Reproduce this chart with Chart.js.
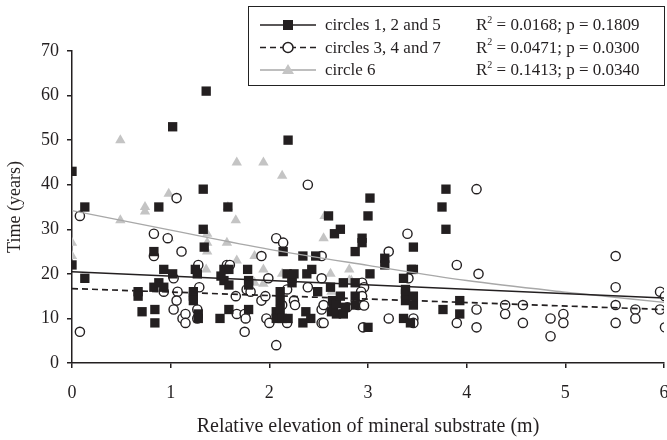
<!DOCTYPE html>
<html>
<head>
<meta charset="utf-8">
<script src="https://cdn.jsdelivr.net/npm/chart.js@4"></script>
<style>
  html, body { margin: 0; padding: 0; background: #fff; overflow: hidden; }
  #wrap { width: 667px; height: 440px; }
</style>
</head>
<body>
<div id="wrap"><canvas id="chart" width="667" height="440"></canvas></div>
<script>
// circles 1, 2 and 5 (black squares)
const circles125 = [
  [0, 43], [0, 22], [0.13, 35], [0.13, 19], [0.67, 16], [0.67, 15], [0.71, 11.5], [0.84, 12],
  [0.84, 9], [0.83, 25], [0.83, 17], [0.88, 18], [0.88, 35], [0.93, 21], [0.93, 17], [1.02, 20],
  [1.02, 53], [1.23, 16], [1.23, 15], [1.23, 14], [1.25, 21], [1.27, 20], [1.28, 11], [1.28, 10],
  [1.33, 39], [1.33, 30], [1.34, 26], [1.36, 61], [1.5, 10], [1.51, 19.5], [1.54, 21], [1.54, 18.5],
  [1.58, 35], [1.59, 21], [1.59, 17.5], [1.59, 12], [1.78, 21], [1.79, 18.5], [1.79, 17.5], [1.79, 12],
  [2.07, 11.5], [2.07, 10], [2.11, 16], [2.11, 14], [2.11, 12], [2.13, 10], [2.14, 25], [2.18, 20],
  [2.19, 10], [2.19, 50], [2.23, 19], [2.23, 18], [2.25, 20], [2.34, 24], [2.34, 9], [2.37, 11.5],
  [2.38, 20], [2.42, 10], [2.43, 21], [2.47, 24], [2.49, 16], [2.6, 33], [2.62, 17], [2.63, 11.5],
  [2.64, 14], [2.65, 12], [2.66, 29], [2.68, 13.3], [2.68, 11], [2.72, 30], [2.72, 15], [2.75, 18],
  [2.75, 11], [2.77, 12.5], [2.87, 25], [2.87, 18], [2.87, 15], [2.87, 13], [2.94, 28], [2.94, 27],
  [3.0, 33], [3.0, 8], [3.02, 37], [3.02, 20], [3.17, 23.5], [3.17, 22], [3.36, 19], [3.36, 10],
  [3.38, 16.5], [3.38, 15.5], [3.38, 14], [3.43, 9], [3.44, 21], [3.46, 26], [3.46, 21], [3.46, 15],
  [3.46, 13], [3.75, 35], [3.76, 12], [3.79, 39], [3.79, 30], [3.93, 14], [3.93, 11]
];
// circles 3, 4 and 7 (open circles)
const circles347 = [
  [0.08, 33], [0.08, 7], [0.83, 29], [0.83, 24], [0.93, 16], [0.97, 28], [1.03, 19], [1.06, 37],
  [1.07, 16], [1.06, 14], [1.03, 12], [1.11, 25], [1.12, 10], [1.15, 11], [1.15, 9], [1.28, 22],
  [1.29, 17], [1.27, 12], [1.27, 10], [1.57, 22], [1.6, 22], [1.66, 15], [1.67, 11], [1.75, 11],
  [1.76, 10], [1.75, 7], [1.77, 16.5], [1.81, 16], [1.92, 24], [1.92, 14], [1.96, 15], [1.97, 10],
  [1.99, 19], [2.0, 9], [2.07, 28], [2.07, 4], [2.14, 27], [2.13, 13], [2.18, 16.5], [2.18, 9],
  [2.25, 14], [2.26, 13], [2.39, 40], [2.39, 17], [2.53, 24], [2.53, 19], [2.53, 12], [2.55, 13],
  [2.53, 9], [2.55, 9], [2.79, 12.5], [2.89, 14.7], [2.9, 13], [2.94, 18], [2.96, 17], [2.93, 16],
  [2.94, 15], [2.96, 12.9], [2.95, 8], [3.21, 25], [3.21, 10], [3.4, 29], [3.41, 19], [3.46, 10],
  [3.46, 9], [3.9, 22], [3.9, 9], [4.1, 39], [4.12, 20], [4.1, 12], [4.1, 8], [4.39, 13],
  [4.39, 11], [4.57, 13], [4.57, 9], [4.85, 10], [4.85, 6], [4.98, 11], [4.98, 9], [5.51, 24],
  [5.51, 17], [5.51, 13], [5.51, 9], [5.71, 12], [5.71, 10], [5.96, 16], [6.01, 15], [5.96, 12],
  [6.01, 8]
];
// circle 6 (grey triangles)
const circle6 = [
  [0, 27], [0, 24], [0.49, 50], [0.49, 32], [0.74, 35], [0.74, 34], [0.98, 38], [0.98, 28],
  [1.37, 29], [1.37, 27], [1.37, 25], [1.36, 21], [1.57, 27], [1.58, 35], [1.66, 32], [1.67, 45],
  [1.67, 23], [1.85, 24], [1.85, 18], [1.94, 45], [1.94, 21], [1.94, 17.8], [2.13, 42], [2.13, 20],
  [2.55, 28], [2.56, 33], [2.62, 20], [2.63, 16], [2.81, 21], [2.81, 18.5], [2.83, 18.5]
];

// fitted lines
const fit125 = [[0, 20.5], [6, 14.6]];
const fit347 = [[0, 16.7], [6, 12.0]];
const fit6 = [[0, 34.2], [1, 29.8], [2, 25.5], [3, 21.9], [4, 18.5], [5, 15.9], [6, 13.6]];

const legendLabels = ['circles 1, 2 and 5', 'circles 3, 4 and 7', 'circle 6'];
const legendStats = [' = 0.0168; p = 0.1809', ' = 0.0471; p = 0.0300', ' = 0.1413; p = 0.0340'];

const xTicks = [0, 1, 2, 3, 4, 5, 6];
const yTicks = [0, 10, 20, 30, 40, 50, 60, 70];

const SERIF = '"Liberation Serif", "DejaVu Serif", serif';
const BLACK = '#231f20';
const GREY_PT = '#c4c4c4';
const GREY_LN = '#a8a8a8';

const toXY = arr => arr.map(p => ({ x: p[0], y: p[1] }));

// legend box drawn on top of the plot
const boxLegend = {
  id: 'boxLegend',
  afterDraw(chart) {
    const ctx = chart.ctx;
    ctx.save();
    ctx.strokeStyle = '#222';
    ctx.lineWidth = 1;
    ctx.fillStyle = '#fff';
    ctx.fillRect(248.5, 6.5, 416, 79);
    ctx.strokeRect(248.5, 6.5, 416, 79);

    const rows = [25, 47.5, 70];
    rows.forEach((y, i) => {
      // sample line
      ctx.beginPath();
      ctx.lineWidth = i === 2 ? 1.3 : 1.5;
      ctx.strokeStyle = i === 2 ? GREY_LN : BLACK;
      ctx.setLineDash(i === 1 ? [6, 4] : []);
      ctx.moveTo(260, y);
      ctx.lineTo(316, y);
      ctx.stroke();
      ctx.setLineDash([]);
      // marker
      const mx = 288;
      if (i === 0) {
        ctx.fillStyle = BLACK;
        ctx.fillRect(mx - 5, y - 5, 10, 10);
      } else if (i === 1) {
        ctx.beginPath();
        ctx.arc(mx, y, 5, 0, Math.PI * 2);
        ctx.fillStyle = '#fff';
        ctx.fill();
        ctx.lineWidth = 1.5;
        ctx.strokeStyle = BLACK;
        ctx.stroke();
      } else {
        ctx.beginPath();
        ctx.moveTo(mx, y - 6);
        ctx.lineTo(mx + 6, y + 4);
        ctx.lineTo(mx - 6, y + 4);
        ctx.closePath();
        ctx.fillStyle = GREY_PT;
        ctx.fill();
      }
      // texts
      ctx.fillStyle = BLACK;
      ctx.textBaseline = 'middle';
      ctx.textAlign = 'left';
      ctx.font = '17px ' + SERIF;
      ctx.fillText(legendLabels[i], 325, y + 1);
      ctx.fillText('R', 476, y + 1);
      const rw = ctx.measureText('R').width;
      ctx.font = '10px ' + SERIF;
      ctx.fillText('2', 476 + rw, y - 5);
      ctx.font = '17px ' + SERIF;
      ctx.fillText(legendStats[i], 476 + rw + 5, y + 1);
    });
    ctx.restore();
  }
};

new Chart(document.getElementById('chart'), {
  type: 'scatter',
  data: {
    datasets: [
      {
        label: legendLabels[0],
        data: toXY(circles125),
        pointStyle: 'rect',
        pointRadius: 6.6,
        backgroundColor: BLACK,
        borderColor: BLACK,
        borderWidth: 0,
        order: 1
      },
      {
        label: legendLabels[1],
        data: toXY(circles347),
        pointStyle: 'circle',
        pointRadius: 4.6,
        backgroundColor: '#fff',
        borderColor: BLACK,
        borderWidth: 1.4,
        order: 2
      },
      {
        label: legendLabels[2],
        data: toXY(circle6),
        pointStyle: 'triangle',
        pointRadius: 6,
        backgroundColor: GREY_PT,
        borderColor: GREY_PT,
        borderWidth: 0,
        order: 3
      },
      {
        type: 'line',
        data: toXY(fit125),
        borderColor: BLACK,
        borderWidth: 1.5,
        pointRadius: 0,
        order: 0
      },
      {
        type: 'line',
        data: toXY(fit347),
        borderColor: BLACK,
        borderWidth: 1.7,
        borderDash: [6, 4],
        pointRadius: 0,
        order: 0
      },
      {
        type: 'line',
        data: toXY(fit6),
        borderColor: GREY_LN,
        borderWidth: 1.4,
        cubicInterpolationMode: 'monotone',
        pointRadius: 0,
        order: 0
      }
    ]
  },
  options: {
    responsive: false,
    animation: false,
    events: [],
    layout: {
      autoPadding: false,
      padding: { left: 0, right: 3, top: 51, bottom: 0 }
    },
    plugins: {
      legend: { display: false },
      tooltip: { enabled: false }
    },
    scales: {
      x: {
        type: 'linear',
        min: 0,
        max: 6,
        afterFit(scale) {
          scale.height = 77;
          scale.paddingLeft = 0;
          scale.paddingRight = 0;
        },
        afterBuildTicks(scale) { scale.ticks = xTicks.map(v => ({ value: v })); },
        border: { display: true, color: BLACK, width: 1.5 },
        grid: { display: true, drawOnChartArea: false, drawTicks: true, tickLength: 5, color: BLACK, lineWidth: 1.5 },
        ticks: { color: BLACK, font: { family: SERIF, size: 18 }, padding: 14 },
        title: {
          display: true,
          text: 'Relative elevation of mineral substrate (m)',
          color: BLACK,
          font: { family: SERIF, size: 20 },
          padding: { top: 0, bottom: 1 }
        }
      },
      y: {
        type: 'linear',
        min: 0,
        max: 70,
        afterFit(scale) {
          scale.width = 72;
          scale.paddingTop = 0;
          scale.paddingBottom = 0;
        },
        afterBuildTicks(scale) { scale.ticks = yTicks.map(v => ({ value: v })); },
        border: { display: true, color: BLACK, width: 1.5 },
        grid: { display: true, drawOnChartArea: false, drawTicks: true, tickLength: 5, color: BLACK, lineWidth: 1.5 },
        ticks: { color: BLACK, font: { family: SERIF, size: 18 }, padding: 8 },
        title: {
          display: true,
          text: 'Time (years)',
          color: BLACK,
          font: { family: SERIF, size: 18 },
          padding: { top: 4, bottom: 0 }
        }
      }
    }
  },
  plugins: [boxLegend]
});
</script>
</body>
</html>
